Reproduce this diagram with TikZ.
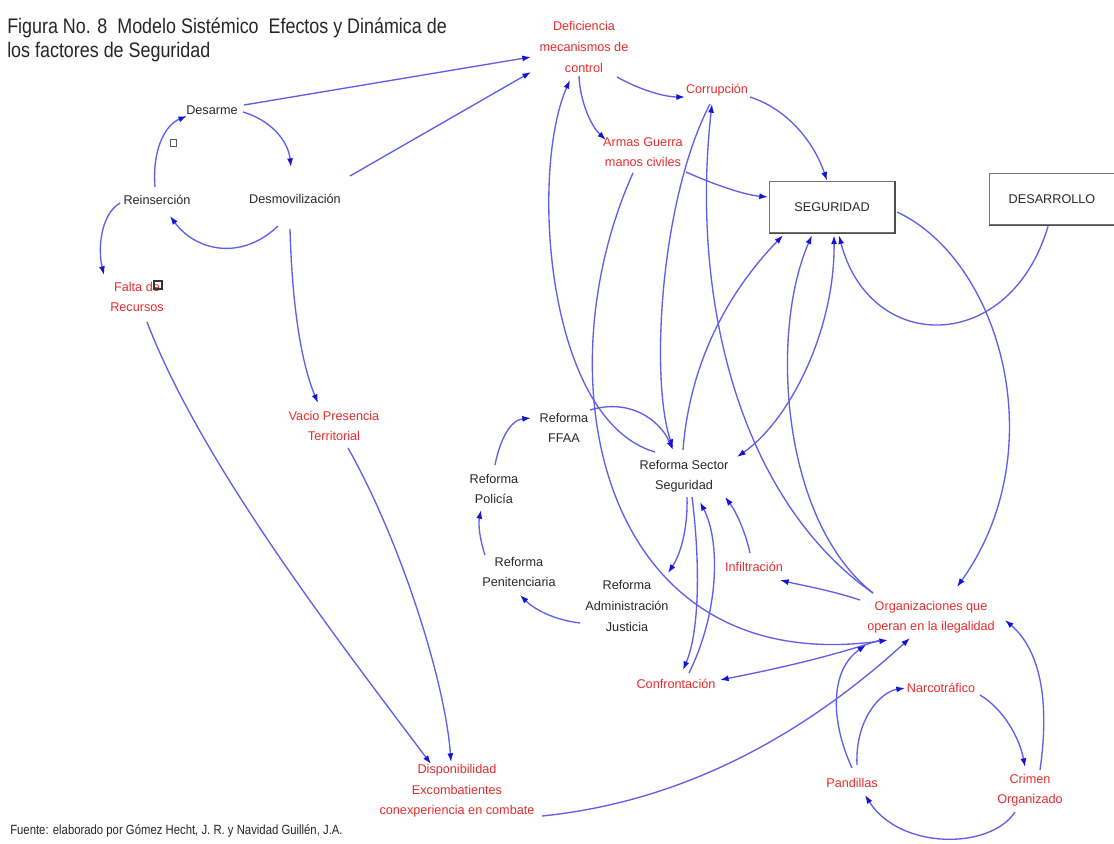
\documentclass[tikz,border=0pt]{standalone}
\usepackage{fontspec}
\usetikzlibrary{arrows.meta,calc}
\newfontfamily\lblfont{Liberation Sans}
\newfontfamily\narrowfont{Liberation Sans}[FakeStretch=0.85]
\definecolor{linkblue}{RGB}{95,95,232}
\definecolor{headblue}{RGB}{20,20,215}
\definecolor{varred}{RGB}{232,45,45}
\definecolor{vartext}{RGB}{40,40,40}
\tikzset{
  cvar/.style={font=\lblfont\fontsize{9.5}{15.4}\selectfont, align=center, inner sep=1pt, text=vartext},
  redvar/.style={cvar, text=varred},
  stockbox/.style={cvar, draw=black!55, line width=1pt, minimum width=93.5pt, minimum height=38.5pt},
  headtip/.tip={Latex[length=6.5pt,width=4.5pt,color=headblue]},
  flow/.style={draw=linkblue, line width=1pt, -headtip},
  twoflow/.style={draw=linkblue, line width=1pt, headtip-headtip},
}
\begin{document}
\begin{tikzpicture}[x=0.75pt,y=-0.75pt]
\useasboundingbox[fill=white] (0,0) rectangle (1114,843);

% heading and source
\node[anchor=base west, inner sep=0, font=\narrowfont\fontsize{15.8}{18}\selectfont, text=black!85] (title1) at (7,33) {Figura No. 8\ \ Modelo Sistémico\ \ Efectos y Dinámica de};
\node[anchor=base west, inner sep=0, font=\narrowfont\fontsize{15.8}{18}\selectfont, text=black!85] (title2) at (7,57) {los factores de Seguridad};
\node[anchor=base west, inner sep=0, font=\narrowfont\fontsize{10}{12}\selectfont, text=black!85] (fuente) at (10,834) {Fuente: elaborado por Gómez Hecht, J. R. y Navidad Guillén, J.A.};

% variables
\node[cvar] (des) at (212,110) {Desarme};
\node[cvar] (desm) at (295,199) {Desmovilización};
\node[cvar] (rein) at (157,200) {Reinserción};
\node[redvar] (falta) at (137,297) {Falta de\\Recursos};
\node[redvar] (vacio) at (334,426) {Vacio Presencia\\Territorial};
\node[redvar] (disp) at (457,791) {Disponibilidad\\Excombatientes\\conexperiencia en combate};
\node[redvar] (defi) at (584,47) {Deficiencia\\mecanismos de\\control};
\node[redvar] (corr) at (717,90) {Corrupción};
\node[redvar] (armas) at (643,152) {Armas Guerra\\manos civiles};
\node[stockbox] (seg) at (832,207) {SEGURIDAD};
\node[stockbox] (desa) at (1052,199) {DESARROLLO};
\node[cvar] (ffaa) at (564,428) {Reforma\\FFAA};
\node[cvar] (poli) at (494,489) {Reforma\\Policía};
\node[cvar] (peni) at (519,572) {Reforma\\Penitenciaria};
\node[cvar] (rss) at (684,476) {Reforma Sector\\Seguridad};
\node[cvar] (raj) at (627,606) {Reforma\\Administración\\Justicia};
\node[redvar] (infi) at (754,567) {Infiltración};
\node[redvar] (conf) at (676,684) {Confrontación};
\node[redvar] (org) at (931,617) {Organizaciones que\\operan en la ilegalidad};
\node[redvar] (narco) at (941,688) {Narcotráfico};
\node[redvar] (pand) at (852,783) {Pandillas};
\node[redvar] (crimen) at (1030,790) {Crimen\\Organizado};

% darker shadow edges of the two boxes
\draw[black!70, line width=1.2pt] (seg.north east) -- (seg.south east) -- (seg.south west);
\draw[black!70, line width=1.2pt] (desa.north east) -- (desa.south east) -- (desa.south west);

% small markers
\draw[black!65, line width=0.6pt] (170,139) rectangle (176,146);
\draw[black!80, line width=0.8pt] (154,281) rectangle (162,289);

% disarmament loop
\draw[flow] ($(des)+(32,-5)$) -- ($(defi)+(-53,10)$);
\draw[flow] ($(desm)+(55,-23)$) -- ($(defi)+(-53,25)$);
\draw[flow] ($(des)+(31,2)$) .. controls (270,120) and (288,140) .. ($(desm)+(-4,-32)$);
\draw[flow] ($(desm)+(-17,27)$) .. controls (240,262) and (195,250) .. ($(rein)+(13,16)$);
\draw[flow] ($(rein)+(-2,-13)$) .. controls (152,150) and (165,125) .. ($(des)+(-25,6)$);
\draw[flow] ($(rein)+(-37,3)$) .. controls (100,215) and (98,250) .. ($(falta)+(-33,-22)$);
\draw[flow] ($(desm)+(-5,30)$) .. controls (292,300) and (300,360) .. ($(vacio)+(-16,-23)$);
\draw[flow] ($(vacio)+(14,22)$) .. controls (400,540) and (445,680) .. ($(disp)+(-6,-29)$);
\draw[flow] ($(falta)+(10,25)$) .. controls (200,460) and (330,630) .. ($(disp)+(-26,-27)$);
\draw[flow] ($(disp)+(85,25)$) .. controls (700,800) and (820,720) .. ($(org)+(-21,21)$);

% control, corruption and weapons
\draw[flow] ($(defi)+(33,30)$) .. controls (640,90) and (665,97) .. ($(corr)+(-32,7)$);
\draw[flow] ($(defi)+(-5,29)$) .. controls (580,100) and (590,125) .. ($(armas)+(-37,-12)$);
\draw[flow] ($(corr)+(33,7)$) .. controls (790,110) and (815,145) .. ($(seg.north)+(-5,0)$);
\draw[flow] ($(armas)+(43,20)$) .. controls (715,185) and (745,195) .. ($(seg.west)+(-1,-10)$);
\draw[flow] ($(armas)+(-10,21)$) .. controls (540,380) and (600,680) .. ($(org)+(-43,23)$);
\draw[flow] ($(rss)+(-29,-24)$) .. controls (545,420) and (530,170) .. ($(defi)+(-14,33)$);
\draw[flow] ($(org)+(-58,-24)$) .. controls (740,500) and (690,300) .. ($(corr)+(-5,14)$);
\draw[flow] ($(corr)+(-7,14)$) .. controls (660,200) and (650,380) .. ($(rss)+(-11,-28)$);

% security and development
\draw[flow] ($(rss)+(-1,-26)$) .. controls (690,360) and (730,290) .. ($(seg.south)+(-49,2)$);
\draw[twoflow] ($(seg.south)+(2,2)$) .. controls (835,330) and (790,420) .. ($(rss)+(53,-19)$);
\draw[flow] ($(org)+(-58,-24)$) .. controls (780,520) and (770,330) .. ($(seg.south)+(-20,2)$);
\draw[flow] ($(desa.south)+(-4,1)$) .. controls (1010,355) and (870,355) .. ($(seg.south)+(7,2)$);
\draw[flow] ($(seg.east)+(2,5)$) .. controls (1000,260) and (1055,450) .. ($(org)+(26,-30)$);

% reform loop
\draw[flow] ($(infi)+(-4,-14)$) .. controls (745,530) and (735,510) .. ($(rss)+(41,21)$);
\draw[flow] ($(org)+(-71,-17)$) .. controls (830,590) and (800,585) .. ($(infi)+(26,13)$);
\draw[flow] ($(rss)+(3,21)$) .. controls (688,530) and (680,555) .. ($(raj)+(41,-33)$);
\draw[flow] ($(rss)+(8,21)$) .. controls (700,560) and (700,630) .. ($(conf)+(7,-14)$);
\draw[flow] ($(conf)+(13,-11)$) .. controls (720,610) and (720,540) .. ($(rss)+(16,26)$);
\draw[flow] ($(org)+(-51,23)$) .. controls (820,660) and (760,672) .. ($(conf)+(44,-4)$);
\draw[flow] ($(raj)+(-47,17)$) .. controls (555,620) and (535,610) .. ($(peni)+(1,23)$);
\draw[flow] ($(peni)+(-34,-17)$) .. controls (480,540) and (478,525) .. ($(poli)+(-13,21)$);
\draw[flow] ($(poli)+(1,-24)$) .. controls (500,440) and (510,420) .. ($(ffaa)+(-33,-10)$);
\draw[flow] ($(ffaa)+(26,-18)$) .. controls (630,398) and (660,420) .. ($(rss)+(-11,-26)$);

% organised crime loop
\draw[flow] ($(narco)+(39,7)$) .. controls (1005,710) and (1020,740) .. ($(crimen)+(-5,-23)$);
\draw[flow] ($(crimen)+(10,-20)$) .. controls (1050,700) and (1040,650) .. ($(org)+(74,3)$);
\draw[flow] ($(crimen)+(-15,22)$) .. controls (990,850) and (900,850) .. ($(pand)+(13,12)$);
\draw[flow] ($(pand)+(5,-18)$) .. controls (855,720) and (880,692) .. ($(narco)+(-36,0)$);
\draw[flow] ($(pand)+(0,-15)$) .. controls (830,720) and (830,670) .. ($(org)+(-65,28)$);
\end{tikzpicture}
\end{document}
